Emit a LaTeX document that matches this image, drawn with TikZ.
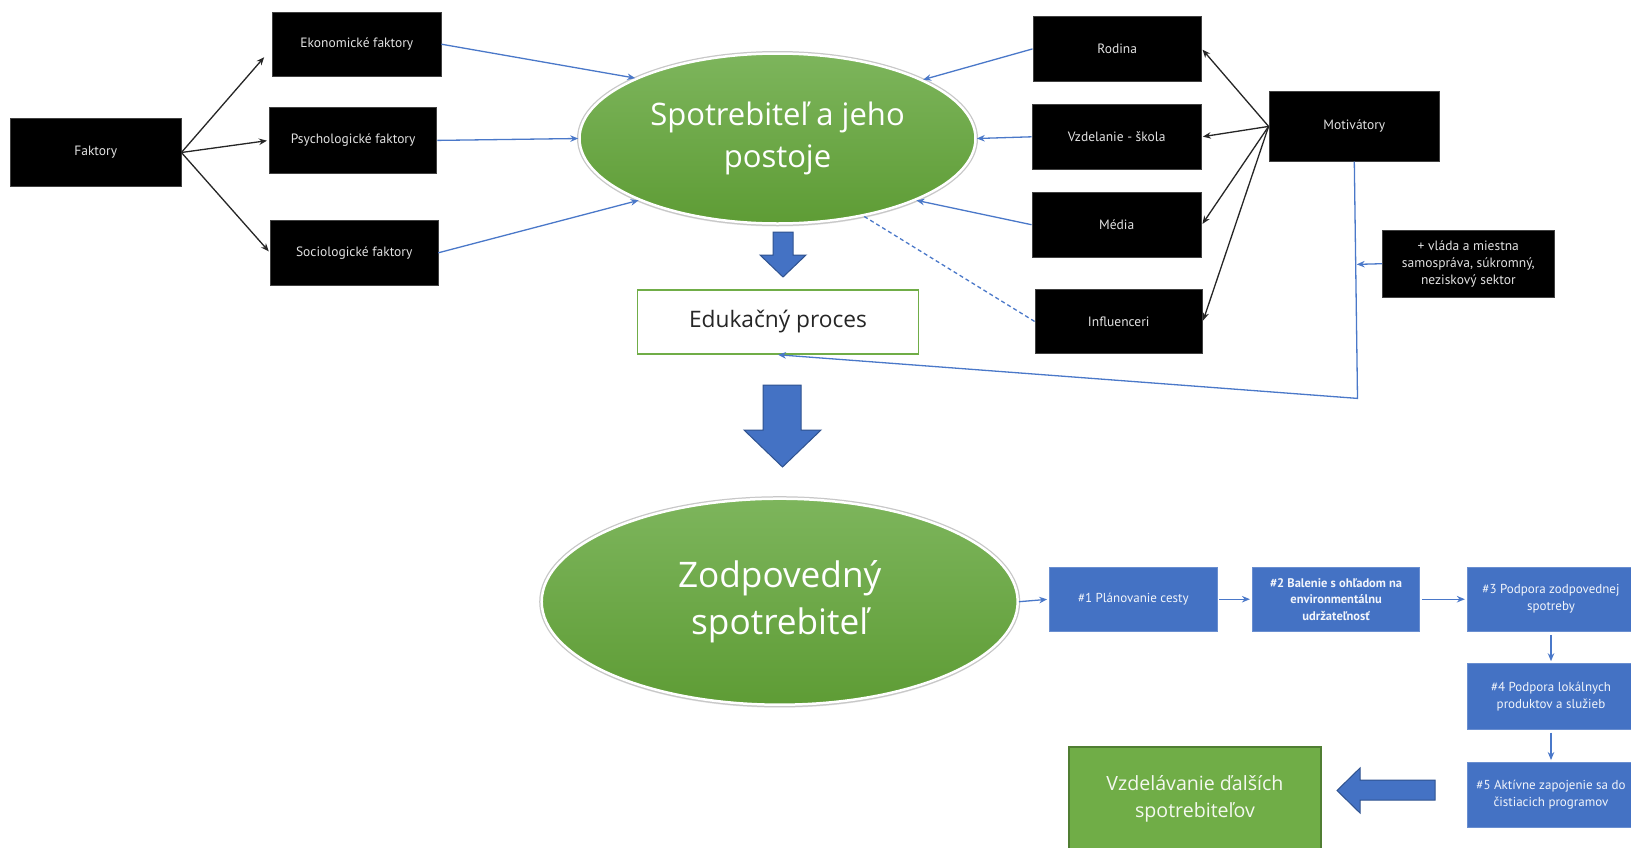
\documentclass[tikz,border=0pt]{standalone}
\usepackage{fontspec}
\setmainfont{Open Sans}
\newfontfamily\labelfont{PT Sans}
\usetikzlibrary{arrows.meta,calc,shadows,shapes.geometric}

\definecolor{accblue}{HTML}{4472C4}
\definecolor{darkblue}{HTML}{2F528F}
\definecolor{accgreen}{HTML}{70AD47}
\definecolor{darkgreen}{HTML}{507E32}
\definecolor{ellTop}{HTML}{7DB55C}
\definecolor{ellBot}{HTML}{5E9C35}
\definecolor{linkblue}{HTML}{4A78C9}
\definecolor{labelgrey}{HTML}{E2E2E2}

\begin{document}
\begin{tikzpicture}[x=1pt,y=-1pt,
  blackbox/.style={rectangle, fill=black, draw=black!75, line width=0.8,
    text=labelgrey, align=center, inner sep=0pt,
    font=\labelfont\fontsize{13.5}{17}\selectfont},
  bluebox/.style={rectangle, fill=accblue, draw=accblue!80!white, line width=0.8,
    text=white!93!accblue, align=center, inner sep=0pt,
    minimum width=167.5pt, minimum height=64.5pt,
    font=\labelfont\fontsize{13}{17}\selectfont},
  greenoval/.style={ellipse, draw=white, line width=2.5, inner sep=0pt,
    top color=ellTop, bottom color=ellBot, text=white, align=center,
    drop shadow={opacity=0.22, shadow xshift=0pt, shadow yshift=-3pt},
    preaction={draw=black!22, line width=5}},
  blockarrow/.style={fill=accblue, draw=darkblue, line width=1, line join=miter},
  blk/.style={draw=black!85, line width=1.3, -{Stealth[length=8pt,width=6.5pt]}},
  bluelink/.style={draw=linkblue, line width=1.3, -{Stealth[length=8pt,width=6.5pt]}},
  blueplain/.style={draw=linkblue, line width=1.3}
]
\useasboundingbox (0,0) rectangle (1631,847);
\clip (0,0) rectangle (1631,847);
\fill[white] (0,0) rectangle (1631,847);

% factor boxes on the left
\node[blackbox, minimum width=170.6pt, minimum height=68.7pt] (fak) at (95.7,152.5) {Faktory};
\node[blackbox, minimum width=168.5pt, minimum height=63.4pt] (eko) at (356.8,44.2) {Ekonomické faktory};
\node[blackbox, minimum width=167.5pt, minimum height=66.6pt] (psy) at (353.1,140.4) {Psychologické faktory};
\node[blackbox, minimum width=167.4pt, minimum height=64.5pt] (soc) at (354.2,252.8) {Sociologické faktory};

% central consumer oval
\node[greenoval, minimum width=396pt, minimum height=170pt,
  font=\fontsize{31}{42}\selectfont] (e1) at (777.5,138.5) {Spotrebiteľ a jeho\\postoje};

% influence boxes on the right
\node[blackbox, minimum width=168.5pt, minimum height=64.5pt] (rod) at (1117.2,48.9) {Rodina};
\node[blackbox, minimum width=169.6pt, minimum height=65.5pt] (vzd) at (1116.7,136.8) {Vzdelanie - škola};
\node[blackbox, minimum width=169.6pt, minimum height=64.5pt] (med) at (1116.7,224.7) {Média};
\node[blackbox, minimum width=167.5pt, minimum height=64.5pt] (inf) at (1118.7,321.4) {Influenceri};
\node[blackbox, minimum width=170.6pt, minimum height=69.7pt] (mot) at (1354.3,126.4) {Motivátory};
\node[blackbox, minimum width=171.6pt, minimum height=67.6pt] (vla) at (1468.3,263.7)
  {+ vláda a miestna\\samospráva, súkromný,\\neziskový sektor};

% education process
\node[rectangle, draw=accgreen, line width=1.5, fill=white, minimum width=281pt,
  minimum height=64pt, text=black!85, font=\fontsize{22.7}{27}\selectfont] (edu) at (778,322) {Edukačný proces};

% responsible consumer oval
\node[greenoval, minimum width=476pt, minimum height=206pt,
  font=\fontsize{35.2}{46.5}\selectfont] (e2) at (779.7,601.7) {Zodpovedný\\spotrebiteľ};

% action steps
\node[bluebox] (s1) at (1133.3,599.2) {\#1 Plánovanie cesty};
\node[bluebox, font=\labelfont\bfseries\fontsize{12.5}{16.5}\selectfont] (s2) at (1336.1,599.2)
  {\#2 Balenie s ohľadom na\\environmentálnu\\udržateľnosť};
\node[bluebox] (s3) at (1551,599.2) {\#3 Podpora zodpovednej\\spotreby};
\node[bluebox, minimum height=65.6pt] (s4) at (1551,696.4) {\#4 Podpora lokálnych\\produktov a služieb};
\node[bluebox] (s5) at (1551,794.7) {\#5 Aktívne zapojenie sa do\\čistiacich programov};

\node[rectangle, fill=accgreen, draw=darkgreen, line width=1.5, minimum width=252pt,
  minimum height=104pt, text=white!92!accgreen, align=center,
  font=\fontsize{19.6}{27}\selectfont] (vdl) at (1195,799) {Vzdelávanie ďalších\\spotrebiteľov};

% factors branch out
\draw[blk] (fak.east) -- ($(eko.west)+(-8,13)$);
\draw[blk, shorten >=2pt] (fak.east) -- (psy.west);
\draw[blk, shorten >=2pt] (fak.east) -- (soc.west);

% factors feed the consumer
\draw[bluelink] (eko.east) -- (e1.157);
\draw[bluelink] (psy.east) -- (e1.west);
\draw[bluelink] (soc.east) -- (e1.204);

% influences feed the consumer
\draw[bluelink] (rod.west) -- (e1.22);
\draw[bluelink] (vzd.west) -- (e1.east);
\draw[bluelink] (med.west) -- (e1.336);
\draw[blueplain, dash pattern=on 4pt off 3pt] (inf.west) -- (e1.318);

% motivators reach each influence
\draw[blk, shorten >=1pt] (mot.west) -- (rod.east);
\draw[blk, shorten >=1pt] (mot.west) -- (vzd.east);
\draw[blk, shorten >=1pt] (mot.west) -- (med.east);
\draw[blk, shorten >=1pt] (mot.west) -- (inf.east);

% motivators route down to the education process
\coordinate (bend) at (1357.5,398.4);
\draw[bluelink] (mot.south) -- (bend) -- (edu.south);
\coordinate (join) at ($(mot.south)!0.434!(bend)$);
\draw[bluelink, shorten >=1pt] (vla.west) -- (join);

% step chain
\draw[bluelink, shorten >=2pt] (e2.east) -- (s1.west);
\draw[bluelink, shorten <=2pt, shorten >=2pt] (s1.east) -- (s2.west);
\draw[bluelink, shorten <=2pt, shorten >=2pt] (s2.east) -- (s3.west);
\draw[bluelink, shorten <=3pt, shorten >=2pt] (s3.south) -- (s4.north);
\draw[bluelink, shorten <=3pt, shorten >=2pt] (s4.south) -- (s5.north);

% block arrows
\draw[blockarrow] (773,232) -- (793,232) -- (793,255) -- (806,255) -- (783,277)
  -- (760,255) -- (773,255) -- cycle;
\draw[blockarrow] (763,385) -- (801,385) -- (801,430) -- (821,430) -- (782.5,467)
  -- (744,430) -- (763,430) -- cycle;
\draw[blockarrow] (1435,780) -- (1435,800) -- (1360,800) -- (1360,813) -- (1337,790.5)
  -- (1360,768) -- (1360,780) -- cycle;
\end{tikzpicture}
\end{document}
